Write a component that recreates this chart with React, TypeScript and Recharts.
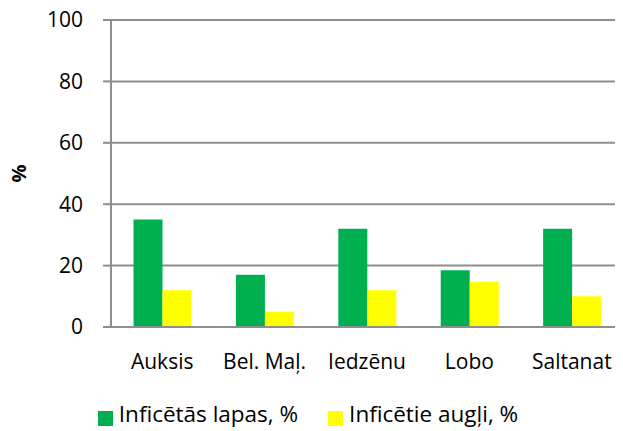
import React from 'react';
import { BarChart, Bar, XAxis, YAxis, CartesianGrid, Legend, Label } from 'recharts';

const categories = ['Auksis', 'Bel. Maļ.', 'Iedzēnu', 'Lobo', 'Saltanat'];
const leaves = [35, 17, 32, 18.5, 32];
const fruits = [12, 5, 12, 14.7, 10];
const yTicks = [0, 20, 40, 60, 80, 100];
const seriesNames = ['Inficētās lapas, %', 'Inficētie augļi, %'];
const seriesColors = ['#00B050', '#FFFF00'];

const data = categories.map((c, i) => ({ name: c, leaves: leaves[i], fruits: fruits[i] }));

const FONT = '"Open Sans", sans-serif';
const GRID = '#8e8e8e';

const LegendContent = () => (
  <div style={{ display: 'flex', justifyContent: 'center', alignItems: 'flex-start', height: 30, paddingTop: 1, boxSizing: 'border-box', fontFamily: FONT, fontSize: 22.5, lineHeight: '24px', color: '#000', paddingRight: 7 }}>
    {seriesNames.map((n, i) => (
      <div key={n} style={{ display: 'flex', alignItems: 'flex-start', marginRight: i === 0 ? 30 : 0 }}>
        <span style={{ display: 'inline-block', width: 15, height: 15, background: seriesColors[i], marginRight: 6, marginTop: 8.5 }} />
        <span>{n}</span>
      </div>
    ))}
  </div>
);

export default function App() {
  return (
    <div style={{ width: 623, height: 431, marginTop: -8, marginLeft: -8 }}>
      <BarChart
        width={623}
        height={431}
        data={data}
        margin={{ top: 20, right: 0, left: 0, bottom: 0 }}
        barCategoryGap="22%"
        barGap={0}
      >
        <CartesianGrid vertical={false} stroke={GRID} strokeWidth={2} />
        <XAxis
          dataKey="name"
          height={74}
          tickLine={false}
          tickSize={8}
          tickMargin={19}
          axisLine={{ stroke: GRID, strokeWidth: 2 }}
          tick={{ fill: '#000', fontSize: 21, fontFamily: FONT }}
          interval={0}
        />
        <YAxis
          width={111}
          domain={[0, 100]}
          ticks={yTicks}
          interval={0}
          tickSize={8}
          tickMargin={20}
          tickLine={{ stroke: GRID, strokeWidth: 2 }}
          axisLine={{ stroke: GRID, strokeWidth: 2 }}
          tick={{ fill: '#000', fontSize: 21, fontFamily: FONT }}
        >
          <Label value="%" angle={-90} position="center" dx={-36.5} style={{ fontWeight: 'bold', fontSize: 20, fontFamily: FONT, fill: '#000' }} />
        </YAxis>
        <Legend verticalAlign="bottom" content={<LegendContent />} />
        <Bar dataKey="leaves" name={seriesNames[0]} fill={seriesColors[0]} isAnimationActive={false} />
        <Bar dataKey="fruits" name={seriesNames[1]} fill={seriesColors[1]} isAnimationActive={false} />
      </BarChart>
    </div>
  );
}
